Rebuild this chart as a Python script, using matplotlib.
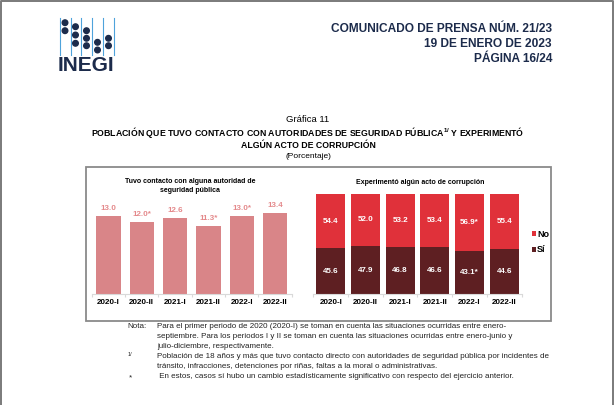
#Recreating INEGI Grafica 11 (contacto con autoridades y corrupcion)

#importing the libraries
import numpy as np
import matplotlib.pyplot as plt
from matplotlib.patches import Rectangle, Circle

plt.rcParams['font.family'] = ['Liberation Sans', 'DejaVu Sans']
plt.rcParams['mathtext.default'] = 'regular'

#data
periodos = ['2020-I', '2020-II', '2021-I', '2021-II', '2022-I', '2022-II']
contacto = [13.0, 12.0, 12.6, 11.3, 13.0, 13.4]
contacto_etiq = ['13.0', '12.0*', '12.6', '11.3*', '13.0*', '13.4']
corrup_si = [45.6, 47.9, 46.8, 46.6, 43.1, 44.6]
corrup_no = [54.4, 52.0, 53.2, 53.4, 56.9, 55.4]
si_etiq = ['45.6', '47.9', '46.8', '46.6', '43.1*', '44.6']
no_etiq = ['54.4', '52.0', '53.2', '53.4', '56.9*', '55.4']

#colors
c_rosa = '#d98588'
c_rosa_txt = '#e4898b'
c_no = '#e0313a'
c_si = '#5e1f22'
c_navy = '#1c2b4b'

W, H = 614, 405
fig = plt.figure(figsize=(W / 100, H / 100), dpi=100)

#background axes in pixel coordinates for the page decorations
ax0 = fig.add_axes([0, 0, 1, 1])
ax0.set_xlim(0, W)
ax0.set_ylim(H, 0)
ax0.axis('off')

#page border
ax0.plot([0.6, 0.6, 612.6, 612.6], [H, 0.6, 0.6, H], color='#7a7a7a', lw=1.4)

#INEGI logo
for lx in [59.5, 70.5, 81, 92, 103, 113.5]:
    ax0.plot([lx, lx], [18, 55], color='#4ea3db', lw=0.8)
dots = {65: [22.7, 30.7], 75.5: [26.7, 35, 43.3], 86.5: [30.7, 38.3, 45.7],
        97.5: [42.3, 50], 108.5: [38.3, 45.7]}
for dx, ys in dots.items():
    for dy in ys:
        ax0.add_patch(Circle((dx, dy), 2.8, color=c_navy, zorder=3))
ax0.text(58, 65.5, 'INEGI', fontsize=15, weight='bold', color=c_navy, va='center', ha='left')

#header
hdr = ['COMUNICADO DE PRENSA NÚM. 21/23', '19 DE ENERO DE 2023', 'PÁGINA 16/24']
for i, t in enumerate(hdr):
    ax0.text(552, 29 + 15 * i, t, ha='right', va='center', fontsize=8.6, weight='bold', color=c_navy)

#titles
ax0.text(308, 119, 'Gráfica 11', ha='center', va='center', fontsize=6.8)
ax0.text(308, 132, 'POBLACIÓN QUE TUVO CONTACTO CON AUTORIDADES DE SEGURIDAD PÚBLICA$^{1/}$ Y EXPERIMENTÓ',
         ha='center', va='center', fontsize=6.3, weight='bold')
ax0.text(308, 145, 'ALGÚN ACTO DE CORRUPCIÓN', ha='center', va='center', fontsize=6.3, weight='bold')
ax0.text(308, 157, '(Porcentaje)', ha='center', va='center', fontsize=6)

#frame around both charts
ax0.add_patch(Rectangle((86, 167), 551 - 86, 321 - 167, fill=False, edgecolor='#8a8a8a', lw=1.3))

#subtitles
ax0.text(190, 186, 'Tuvo contacto con alguna autoridad de\nseguridad pública', ha='center', va='center',
         fontsize=5.0, weight='bold', linespacing=1.35)
ax0.text(420, 183, 'Experimentó algún acto de corrupción', ha='center', va='center', fontsize=5.0, weight='bold')

#notes
nota = [
    'Para el primer periodo de 2020 (2020-I) se toman en cuenta las situaciones ocurridas entre enero-',
    'septiembre. Para los periodos I y II se toman en cuenta las situaciones ocurridas entre enero-junio y',
    'julio-diciembre, respectivamente.',
    'Población de 18 años y más que tuvo contacto directo con autoridades de seguridad pública por incidentes de',
    'tránsito, infracciones, detenciones por riñas, faltas a la moral o administrativas.',
    ' En estos, casos sí hubo un cambio estadísticamente significativo con respecto del ejercicio anterior.',
]
for i, t in enumerate(nota):
    ax0.text(157, 327 + 10 * i, t, ha='left', va='center', fontsize=5.8, color='#222222')
ax0.text(127, 327, 'Nota:', ha='left', va='center', fontsize=5.8, color='#222222')
ax0.text(128, 354.5, '1/', ha='left', va='center', fontsize=4.0, color='#222222')
ax0.text(129, 378, '*', ha='left', va='center', fontsize=5.8, color='#222222')

x = np.arange(len(periodos))

#left chart: contacto con autoridad
ax1 = fig.add_axes([91.7 / W, 1 - 294.3 / H, 200 / W, 94.3 / H])
ax1.bar(x, contacto, width=0.73, color=c_rosa)
for i, v in enumerate(contacto):
    ax1.annotate(contacto_etiq[i], (i, v), xytext=(0, 5.6), textcoords='offset points',
                 ha='center', va='center', fontsize=5.8, weight='bold', color=c_rosa_txt)
ax1.set_xlim(-0.5, 5.5)
ax1.set_ylim(0, 94.3 / 6.04)

#right chart: experimento corrupcion (stacked)
ax2 = fig.add_axes([313.35 / W, 1 - 294.3 / H, 208.2 / W, 100.6 / H])
b_si = ax2.bar(x, corrup_si, width=0.836, color=c_si)
b_no = ax2.bar(x, corrup_no, bottom=corrup_si, width=0.836, color=c_no)
for i in range(len(periodos)):
    ax2.text(i, corrup_si[i] / 2, si_etiq[i], ha='center', va='center', fontsize=5.8, weight='bold', color='white')
    ax2.text(i, corrup_si[i] + corrup_no[i] / 2, no_etiq[i], ha='center', va='center', fontsize=5.8,
             weight='bold', color='white')
ax2.set_xlim(-0.5, 5.5)
ax2.set_ylim(0, 100)
ax2.legend([b_no, b_si], ['No', 'Sí'], loc='center left', bbox_to_anchor=(527 / W, 1 - 242 / H),
           bbox_transform=fig.transFigure, frameon=False, borderpad=0, handlelength=0.45, handleheight=0.45,
           handletextpad=0.15, labelspacing=0.75, prop={'size': 6.5, 'weight': 'bold'})

#shared axis styling
for ax in [ax1, ax2]:
    for s in ['top', 'right', 'left']:
        ax.spines[s].set_visible(False)
    ax.spines['bottom'].set_color('#d9d9d9')
    ax.spines['bottom'].set_linewidth(0.8)
    ax.set_yticks([])
    ax.set_xticks(x)
    ax.set_xticklabels(periodos, fontsize=5.8, weight='bold')
    ax.tick_params(axis='x', which='major', length=0, pad=3.5)
    ax.set_xticks(np.arange(-0.5, 6, 1), minor=True)
    ax.tick_params(axis='x', which='minor', length=2.5, color='#d9d9d9', width=0.8)
    ax.patch.set_alpha(0)

fig.savefig('out.png', dpi=100)
